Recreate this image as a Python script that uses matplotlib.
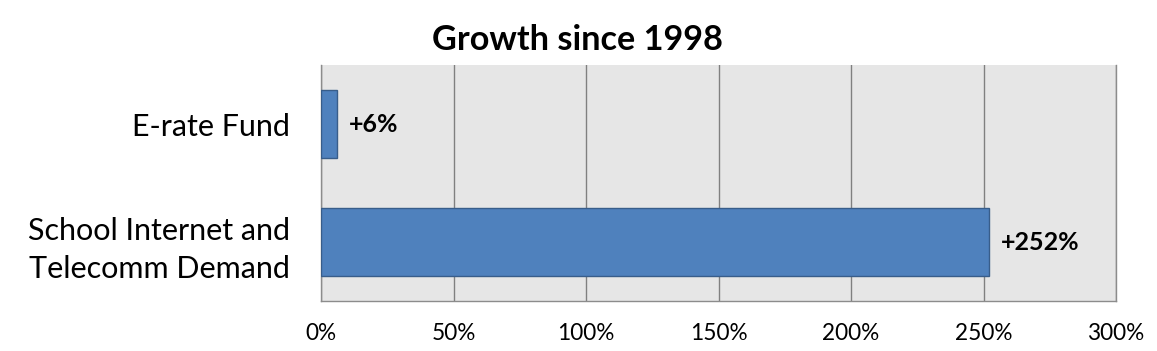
import matplotlib
matplotlib.use("Agg")
import matplotlib.pyplot as plt

categories = ["School Internet and\nTelecomm Demand", "E-rate Fund"]
values = [252, 6]
labels = ["+252%", "+6%"]
xticks = [0, 50, 100, 150, 200, 250, 300]
xticklabels = ["0%", "50%", "100%", "150%", "200%", "250%", "300%"]

plt.rcParams['font.family'] = ['Lato', 'DejaVu Sans']

W, H = 1157, 351
fig = plt.figure(figsize=(W/100, H/100), dpi=100)
ax = fig.add_axes([321/W, 1-301/H, (1116-321)/W, (301-65)/H])
ax.set_facecolor('#e6e6e6')

ypos = list(range(len(categories)))
ax.barh(ypos, values, height=0.574, color='#4f81bd', edgecolor='#385d8a', linewidth=1, zorder=3)
for y, v, l in zip(ypos, values, labels):
    ax.annotate(l, (v, y), xytext=(12, 0), textcoords='offset pixels',
                va='center', ha='left', fontsize=18, fontweight='bold', color='black')

ax.set_xlim(0, 300)
ax.set_ylim(-0.5, 1.5)
ax.set_xticks(xticks)
ax.set_xticklabels(xticklabels, fontsize=16.3)
ax.set_yticks(ypos)
ax.set_yticklabels(categories, fontsize=22, linespacing=1.45)
ax.tick_params(axis='both', length=0)
ax.tick_params(axis='y', pad=22)
ax.tick_params(axis='x', pad=15.5)
ax.grid(axis='x', color='#808080', linewidth=1, zorder=0)
for s in ['left', 'bottom', 'right']:
    ax.spines[s].set_color('#8c8c8c')
    ax.spines[s].set_linewidth(1)
ax.spines['top'].set_visible(False)

fig.text(577/W, 1-40/H, "Growth since 1998", ha='center', va='center', fontsize=24.7, fontweight='bold')

fig.savefig("out.png", dpi=100, facecolor='white')
